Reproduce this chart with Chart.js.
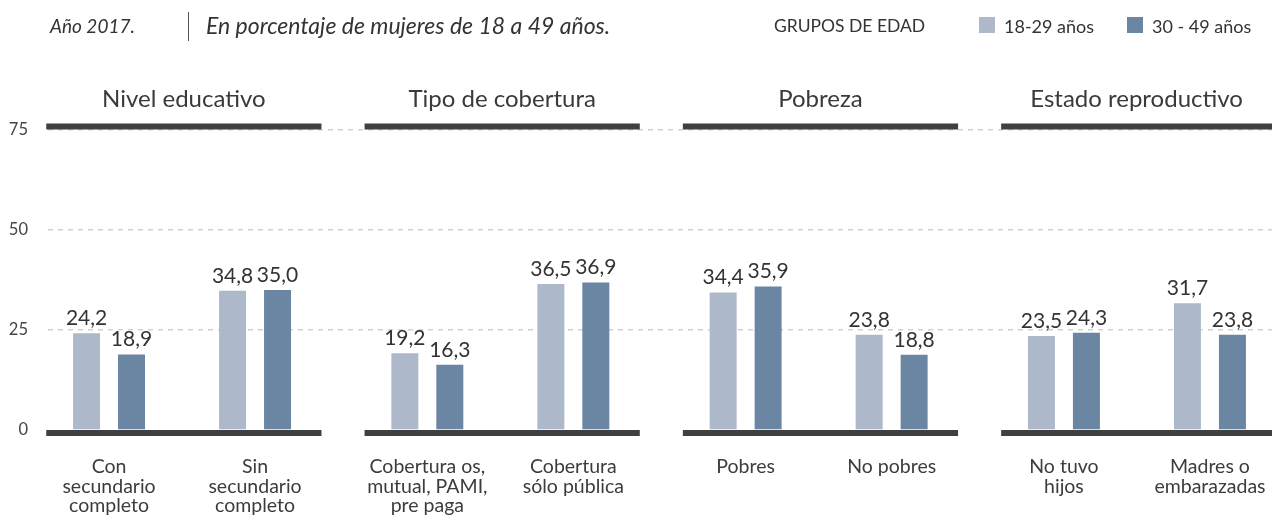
<!DOCTYPE html>
<html>
<head>
<meta charset="utf-8">
<script src="https://cdn.jsdelivr.net/npm/chart.js@4/dist/chart.umd.min.js"></script>
<style>
  body { margin: 0; background: #fff; font-family: Lato, sans-serif; color: #333; }
  #wrap { position: relative; width: 1272px; height: 527px; overflow: hidden; }
  #chart { position: absolute; left: 0; top: 0; }
  .t { position: absolute; white-space: nowrap; line-height: 1; }
  .sq { position: absolute; width: 16px; height: 16px; }
</style>
</head>
<body>
<div id="wrap">
  <canvas id="chart" width="1272" height="527"></canvas>
  <div class="t" style="left:50px;top:16px;font-size:19px;font-style:italic;">Año 2017.</div>
  <div style="position:absolute;left:188px;top:12px;width:1px;height:29px;background:#555;"></div>
  <div class="t" style="left:206px;top:14px;font-size:23px;font-style:italic;">En porcentaje de mujeres de 18 a 49 años.</div>
  <div class="t" style="left:774px;top:17px;font-size:17.5px;">GRUPOS DE EDAD</div>
  <div class="sq" style="left:979px;top:17px;background:#adb9ca;"></div>
  <div class="t" style="left:1004px;top:17px;font-size:18px;">18-29 años</div>
  <div class="sq" style="left:1127px;top:17px;background:#6a86a2;"></div>
  <div class="t" style="left:1152px;top:17px;font-size:18px;">30 - 49 años</div>
</div>
<script>
// datos
const panels = ['Nivel educativo', 'Tipo de cobertura', 'Pobreza', 'Estado reproductivo'];
const categories = [
  ['Con', 'secundario', 'completo'],
  ['Sin', 'secundario', 'completo'],
  ['Cobertura os,', 'mutual, PAMI,', 'pre paga'],
  ['Cobertura', 'sólo pública'],
  ['Pobres'],
  ['No pobres'],
  ['No tuvo', 'hijos'],
  ['Madres o', 'embarazadas']
];
const grupo1829 = [24.2, 34.8, 19.2, 36.5, 34.4, 23.8, 23.5, 31.7];
const grupo3049 = [18.9, 35.0, 16.3, 36.9, 35.9, 18.8, 24.3, 23.8];
const yTicks = [0, 25, 50, 75];

// cada panel tiene 2 categorias, y hay un poco mas de espacio entre paneles
const PANEL_STEP = 2.18;
function xPos(i) { return Math.floor(i / 2) * PANEL_STEP + (i % 2); }

const deco = {
  id: 'deco',
  afterDatasetsDraw(chart) {
    const { ctx, scales: { x, y } } = chart;
    ctx.save();
    panels.forEach((p, k) => {
      const left = x.getPixelForValue(xPos(2 * k) - 0.43);
      const right = Math.min(x.getPixelForValue(xPos(2 * k + 1) + 0.455), chart.width);
      ctx.fillStyle = '#404040';
      ctx.fillRect(left, y.getPixelForValue(75) - 6.5, right - left, 6);
      ctx.fillRect(left, y.getPixelForValue(0), right - left, 6);
      ctx.fillStyle = '#3a3a3a';
      ctx.font = '24px Lato';
      ctx.textAlign = 'center';
      ctx.textBaseline = 'alphabetic';
      ctx.fillText(p, (left + right) / 2, 107);
    });
    // etiquetas de valor
    ctx.font = '21px Lato';
    ctx.fillStyle = '#333';
    chart.data.datasets.forEach((ds, di) => {
      chart.getDatasetMeta(di).data.forEach((bar, i) => {
        const v = ds.data[i].y;
        ctx.fillText(v.toFixed(1).replace('.', ','), bar.x, bar.y - 8);
      });
    });
    ctx.restore();
  }
};

function makeChart() {
  const ctx = document.getElementById('chart').getContext('2d');
  new Chart(ctx, {
    type: 'bar',
    data: {
      datasets: [
        {
          label: '18-29 años',
          data: grupo1829.map((v, i) => ({ x: xPos(i), y: v })),
          backgroundColor: '#adb9ca'
        },
        {
          label: '30 - 49 años',
          data: grupo3049.map((v, i) => ({ x: xPos(i), y: v })),
          backgroundColor: '#6a86a2'
        }
      ]
    },
    options: {
      responsive: false,
      animation: false,
      categoryPercentage: 0.616,
      barPercentage: 0.6,
      layout: { padding: { top: 130, left: 0, right: 0, bottom: 0 } },
      plugins: { legend: { display: false }, tooltip: { enabled: false } },
      scales: {
        x: {
          type: 'linear',
          offset: false,
          min: -0.418,
          max: 7.965,
          afterBuildTicks: s => { s.ticks = categories.map((c, i) => ({ value: xPos(i) })); },
          afterFit: s => { s.height = 97; s.paddingLeft = 0; s.paddingRight = 0; },
          grid: { display: false, offset: false, drawTicks: false, tickLength: 0 },
          border: { display: false },
          ticks: {
            autoSkip: false,
            maxRotation: 0,
            padding: 27,
            color: '#3c3c3c',
            font: { family: 'Lato', size: 19.5, lineHeight: 1.0 },
            callback: (v, i) => categories[i]
          }
        },
        y: {
          min: 0,
          max: 75,
          afterBuildTicks: s => { s.ticks = yTicks.map(v => ({ value: v })); },
          afterFit: s => { s.width = 48; },
          grid: {
            color: c => c.tick && c.tick.value === 0 ? 'rgba(0,0,0,0)' : '#d2d2d2',
            lineWidth: 1.5,
            drawTicks: false,
            tickLength: 0
          },
          border: { display: false, dash: [5, 5] },
          ticks: { padding: 20, color: '#444', font: { family: 'Lato', size: 16.5 } }
        }
      }
    },
    plugins: [deco]
  });
}

document.fonts.load('20px Lato').then(makeChart, makeChart);
</script>
</body>
</html>
